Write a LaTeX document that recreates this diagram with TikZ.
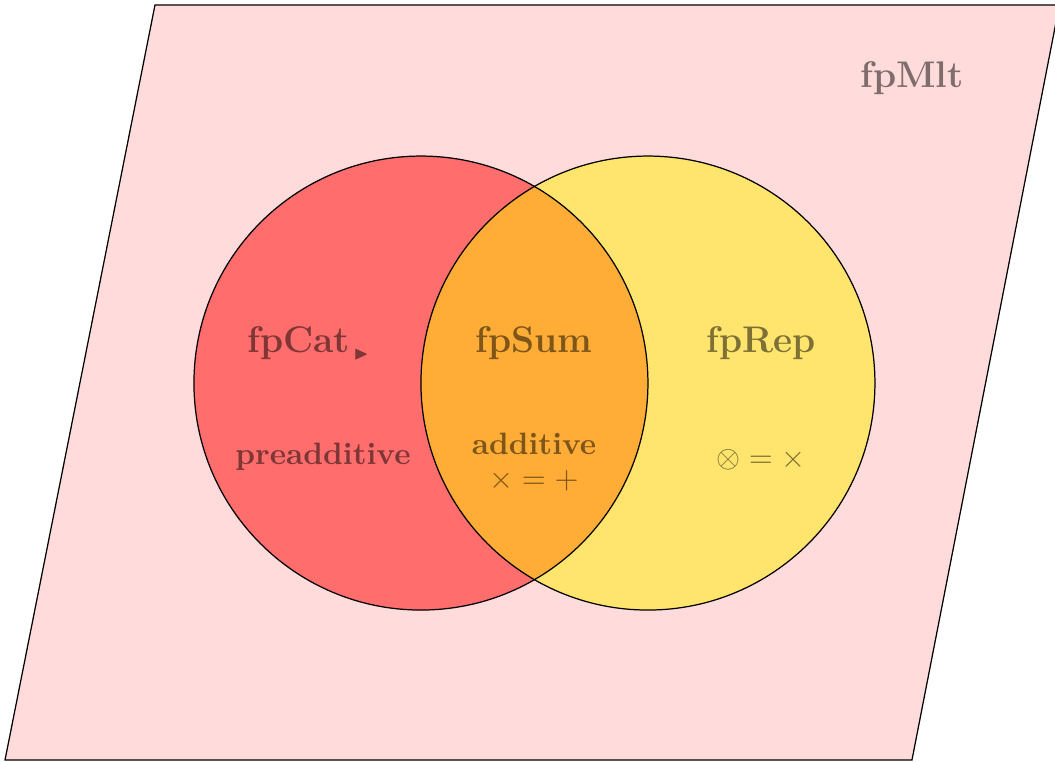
\documentclass[tikz,border=0pt]{standalone}
\usepackage{amssymb}
\begin{document}
\begin{tikzpicture}[x=1cm,y=1cm,font=\bfseries,
	lbl/.style={text=black,text opacity=.5},
	setcirc/.style={draw=black,thin,fill opacity=.5}]
	\def\r{2.582} % ban kinh
	\useasboundingbox (0,0) rectangle (12,8.656);
	\filldraw[fill=red!14,draw=black,thin] (0.057,0.011) -- (1.763,8.599) -- (12.05,8.599) -- (10.373,0.011) -- cycle;
	\fill[red,fill opacity=.5] (4.788,4.299) circle (\r);
	\fill[yellow!95!orange,fill opacity=.5] (7.370,4.299) circle (\r);
	\draw[thin] (4.788,4.299) circle (\r);
	\draw[thin] (7.370,4.299) circle (\r);
	\node[lbl,font=\large\bfseries] (mlt) at (10.373,7.769) {fpMlt};
	\node[lbl,font=\large\bfseries] (cat) at (3.40,4.754) {fpCat};
	\node[lbl,inner sep=0pt] (tri) at (4.11,4.617) {$\scriptscriptstyle\blacktriangleright$};
	\node[lbl,font=\large\bfseries] (sum) at (6.074,4.754) {fpSum};
	\node[lbl,font=\large\bfseries] (rep) at (8.656,4.754) {fpRep};
	\node[lbl] (pre) at (3.674,3.458) {preadditive};
	\node[lbl,align=center] (add) at (6.074,3.401) {additive\\[-1pt]$\times=+$};
	\node[lbl] (ten) at (8.656,3.424) {$\otimes=\times$};
\end{tikzpicture}
\end{document}
